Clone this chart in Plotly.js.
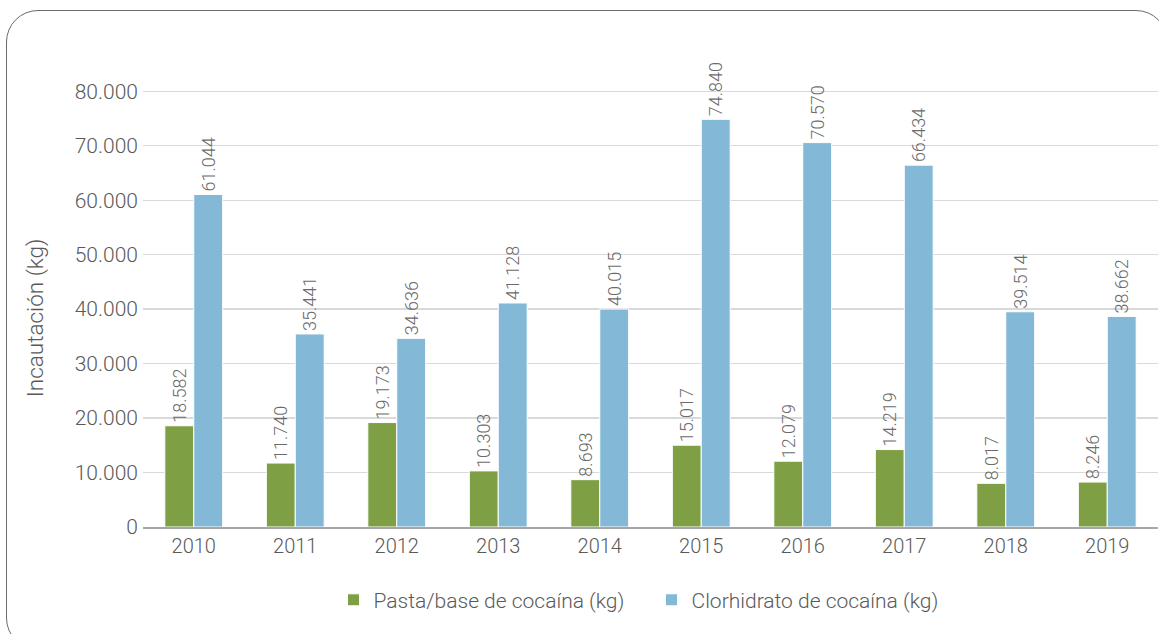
<!DOCTYPE html>
<html>
<head>
<meta charset="utf-8">
<script src="https://cdn.plot.ly/plotly-3.0.1.min.js"></script>
<style>
  html, body { margin: 0; padding: 0; background: #ffffff; overflow: hidden; }
  #frame { position: absolute; left: 6px; top: 10px; width: 1162px; height: 640px;
           border: 1.5px solid #6b6b6b; border-radius: 32px; box-sizing: border-box; pointer-events: none; z-index: 2; }
  #chart { position: absolute; left: 0; top: 0; width: 1159px; height: 634px; }
</style>
</head>
<body>
<div id="chart"></div>
<div id="frame"></div>
<script>
const years = ['2010', '2011', '2012', '2013', '2014', '2015', '2016', '2017', '2018', '2019'];
const pastaBase = [18582, 11740, 19173, 10303, 8693, 15017, 12079, 14219, 8017, 8246];
const clorhidrato = [61044, 35441, 34636, 41128, 40015, 74840, 70570, 66434, 39514, 38662];
const seriesNames = ['Pasta/base de cocaína (kg)', 'Clorhidrato de cocaína (kg)'];
const yTitle = 'Incautación (kg)';

const fontFamily = 'Roboto, "Liberation Sans", Arial, sans-serif';
const textCol = '#595959';

const common = {
  type: 'bar',
  x: years,
  textposition: 'outside',
  textangle: -90,
  texttemplate: '%{y:,}',
  constraintext: 'none',
  cliponaxis: false,
  textfont: { family: fontFamily, size: 18, color: '#6b6b6b', weight: 300 },
  hoverinfo: 'skip'
};

const data = [
  Object.assign({}, common, {
    name: seriesNames[0], y: pastaBase,
    marker: { color: '#7f9f45', line: { color: '#ffffff', width: 1 } }
  }),
  Object.assign({}, common, {
    name: seriesNames[1], y: clorhidrato,
    marker: { color: '#83b9d6', line: { color: '#ffffff', width: 1 } }
  })
];

const layout = {
  width: 1159, height: 634,
  margin: { l: 143, r: 1, t: 64, b: 107 },
  paper_bgcolor: '#ffffff', plot_bgcolor: '#ffffff',
  separators: ',.',
  font: { family: fontFamily, size: 20, color: textCol, weight: 300 },
  barmode: 'group',
  bargap: 0.43,
  bargroupgap: 0,
  showlegend: true,
  legend: {
    orientation: 'h', x: 0.501, xanchor: 'center', y: -0.158, yanchor: 'middle',
    font: { family: fontFamily, size: 21, color: textCol, weight: 300 },
    itemwidth: 30, traceorder: 'normal',
    entrywidth: 273, entrywidthmode: 'pixels'
  },
  xaxis: {
    type: 'category', showgrid: false, zeroline: false,
    showline: true, linecolor: '#a6a6a6', linewidth: 2,
    ticks: '', tickfont: { family: fontFamily, size: 20, color: textCol, weight: 300 }
  },
  yaxis: {
    range: [0, 85000], dtick: 10000, tick0: 0, tickformat: ',',
    showgrid: true, gridcolor: '#d9d9d9', gridwidth: 1.3,
    zeroline: false, showline: false, ticks: '',
    ticklabelstandoff: 4,
    tickfont: { family: fontFamily, size: 21, color: textCol, weight: 300 }
  },
  annotations: [{
    text: yTitle, xref: 'paper', yref: 'paper', x: -0.1064, y: 0.451,
    textangle: -90, showarrow: false, xanchor: 'center', yanchor: 'middle',
    font: { family: fontFamily, size: 22.5, color: textCol, weight: 300 }
  }]
};

Plotly.newPlot('chart', data, layout, { displayModeBar: false, staticPlot: true });
</script>
</body>
</html>
